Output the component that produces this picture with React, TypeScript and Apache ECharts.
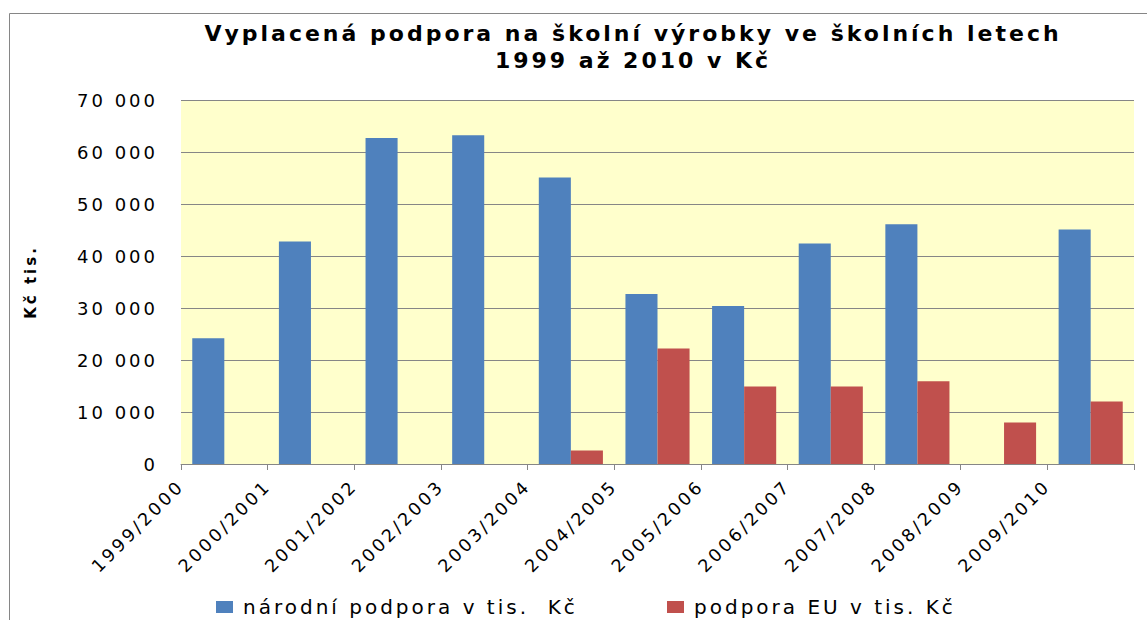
import React, { useEffect, useRef } from "react";
import * as echarts from "echarts";

const categories = [
  "1999/2000", "2000/2001", "2001/2002", "2002/2003", "2003/2004", "2004/2005",
  "2005/2006", "2006/2007", "2007/2008", "2008/2009", "2009/2010",
];
const narodni = [24200, 42800, 62700, 63200, 55100, 32700, 30400, 42400, 46100, null, 45100];
const eu = [null, null, null, null, 2600, 22200, 14900, 14900, 15900, 8000, 12000];
const seriesNames = ["národní podpora v tis.  Kč", "podpora EU v tis. Kč"];
const titleLines = ["Vyplacená podpora na školní výrobky ve školních letech", "1999 až 2010 v Kč"];
const yName = "Kč tis.";

const FONT = "DejaVu Sans";

function fmt(v: number) {
  return String(v).replace(/\B(?=(\d{3})+(?!\d))/g, " ");
}

export default function App() {
  const ref = useRef<HTMLDivElement>(null);
  useEffect(() => {
    if (!ref.current) return;
    const chart = echarts.init(ref.current, null, { renderer: "svg" });
    chart.setOption({
      animation: false,
      backgroundColor: "#ffffff",
      title: {
        text: titleLines.join("\n"),
        left: 633,
        top: 20,
        textAlign: "center",
        padding: 0,
        textStyle: {
          fontFamily: FONT,
          fontSize: 22,
          fontWeight: "bold",
          color: "#000",
          lineHeight: 27,
        },
      },
      graphic: [
        {
          type: "rect",
          shape: { x: 9.5, y: 13.5, width: 1200, height: 700 },
          style: { fill: "none", stroke: "#868686", lineWidth: 1 },
          silent: true,
        },
      ],
      legend: [
        {
          data: [seriesNames[0]],
          left: 216,
          top: 597,
          padding: 0,
          itemWidth: 17,
          itemHeight: 12,
          icon: "rect",
          textStyle: { fontFamily: FONT, fontSize: 20, color: "#000", padding: [0, 0, 0, 5] },
        },
        {
          data: [seriesNames[1]],
          left: 667,
          top: 597,
          padding: 0,
          itemWidth: 17,
          itemHeight: 12,
          icon: "rect",
          textStyle: { fontFamily: FONT, fontSize: 20, color: "#000", padding: [0, 0, 0, 5] },
        },
      ],
      grid: {
        left: 181,
        right: 13,
        top: 100,
        bottom: 156,
        show: true,
        backgroundColor: "#FFFFCC",
        borderWidth: 0,
        containLabel: false,
      },
      xAxis: [
        {
          type: "category",
          data: categories,
          boundaryGap: true,
          axisLine: { show: true, lineStyle: { color: "#868686", width: 1 } },
          axisTick: { show: true, length: 6, lineStyle: { color: "#868686" } },
          axisLabel: { show: false },
          splitLine: { show: false },
        },
        {
          type: "category",
          data: [...categories, ""],
          boundaryGap: false,
          position: "bottom",
          offset: 0,
          axisLine: { show: false },
          axisTick: { show: false },
          splitLine: { show: false },
          axisLabel: {
            interval: 0,
            rotate: 45,
            margin: 19,
            fontFamily: FONT,
            fontSize: 17.5,
            color: "#000",
          },
        },
      ],
      yAxis: {
        type: "value",
        min: 0,
        max: 70000,
        interval: 10000,
        name: yName,
        nameLocation: "middle",
        nameRotate: 90,
        nameGap: 143,
        nameTextStyle: { fontFamily: FONT, fontSize: 15, fontWeight: "bold", color: "#000" },
        axisLine: { show: false },
        axisTick: { show: false },
        axisLabel: {
          margin: 23,
          fontFamily: FONT,
          fontSize: 18,
          color: "#000",
          formatter: (v: number) => fmt(v),
        },
        splitLine: { show: true, lineStyle: { color: "#868686", width: 1 } },
      },
      series: [
        {
          name: seriesNames[0],
          type: "bar",
          data: narodni,
          itemStyle: { color: "#4F81BD" },
          barGap: "0%",
          barCategoryGap: "26%",
        },
        {
          name: seriesNames[1],
          type: "bar",
          data: eu,
          itemStyle: { color: "#C0504D" },
          barGap: "0%",
          barCategoryGap: "26%",
        },
      ],
    });
    return () => chart.dispose();
  }, []);
  return (
    <div
      ref={ref}
      style={{
        position: "fixed",
        left: 0,
        top: 0,
        width: 1147,
        height: 620,
        letterSpacing: "3px",
      }}
    />
  );
}
